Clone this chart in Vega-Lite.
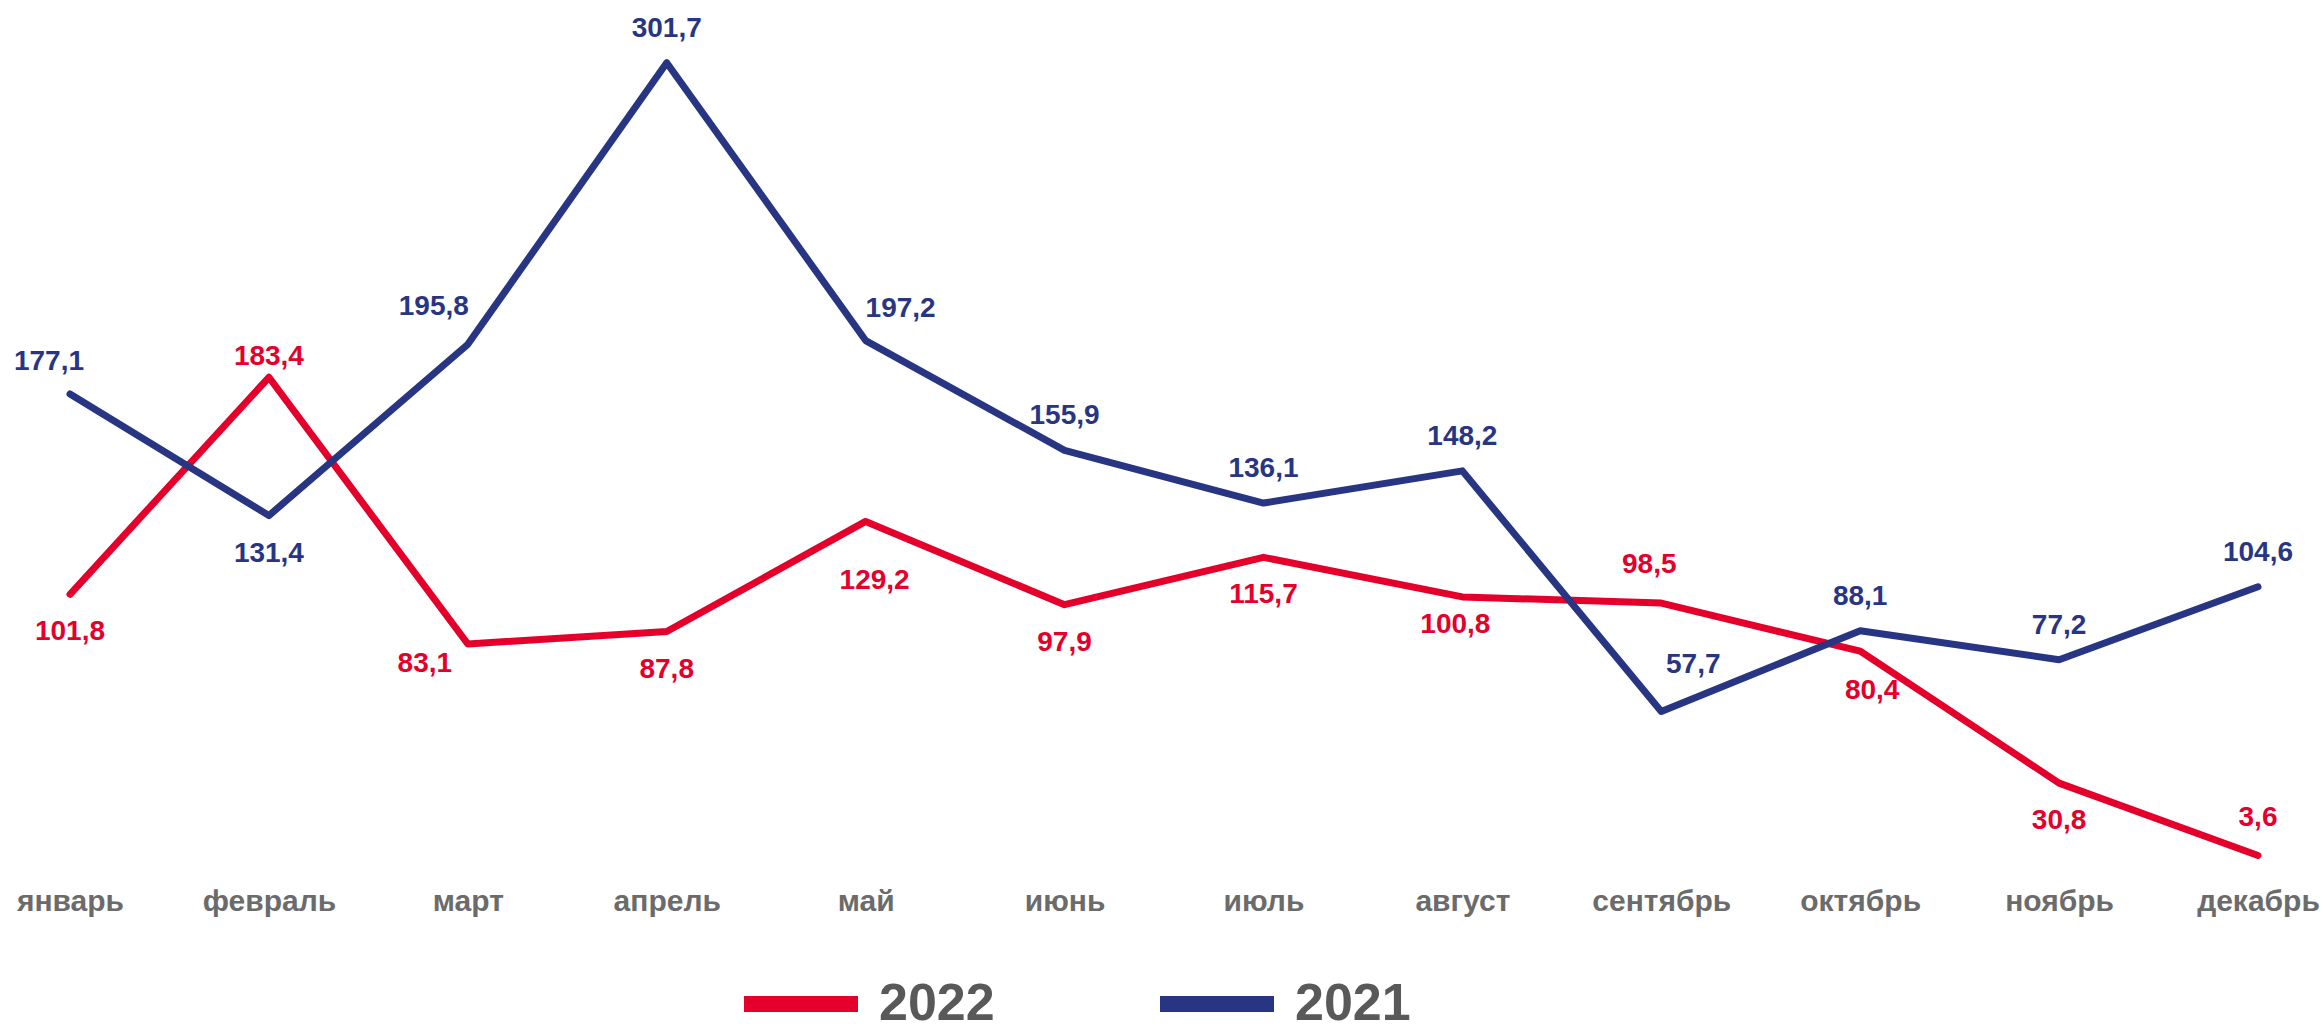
{
  "$schema": "https://vega.github.io/schema/vega-lite/v6.json",
  "width": 2188,
  "height": 851,
  "autosize": {"type": "none"},
  "padding": {"left": 70, "top": 14, "right": 65, "bottom": 166},
  "background": "white",
  "config": {
    "view": {"stroke": null},
    "locale": {"number": {"decimal": ",", "thousands": " ", "grouping": [3], "currency": ["", ""]}},
    "text": {"font": "Liberation Sans", "fontSize": 28, "fontWeight": "bold", "baseline": "middle"}
  },
  "data": {
    "values": [
      {"month": "январь", "year": "2022", "value": 101.8},
      {"month": "февраль", "year": "2022", "value": 183.4},
      {"month": "март", "year": "2022", "value": 83.1},
      {"month": "апрель", "year": "2022", "value": 87.8},
      {"month": "май", "year": "2022", "value": 129.2},
      {"month": "июнь", "year": "2022", "value": 97.9},
      {"month": "июль", "year": "2022", "value": 115.7},
      {"month": "август", "year": "2022", "value": 100.8},
      {"month": "сентябрь", "year": "2022", "value": 98.5},
      {"month": "октябрь", "year": "2022", "value": 80.4},
      {"month": "ноябрь", "year": "2022", "value": 30.8},
      {"month": "декабрь", "year": "2022", "value": 3.6},
      {"month": "январь", "year": "2021", "value": 177.1},
      {"month": "февраль", "year": "2021", "value": 131.4},
      {"month": "март", "year": "2021", "value": 195.8},
      {"month": "апрель", "year": "2021", "value": 301.7},
      {"month": "май", "year": "2021", "value": 197.2},
      {"month": "июнь", "year": "2021", "value": 155.9},
      {"month": "июль", "year": "2021", "value": 136.1},
      {"month": "август", "year": "2021", "value": 148.2},
      {"month": "сентябрь", "year": "2021", "value": 57.7},
      {"month": "октябрь", "year": "2021", "value": 88.1},
      {"month": "ноябрь", "year": "2021", "value": 77.2},
      {"month": "декабрь", "year": "2021", "value": 104.6}
    ]
  },
  "encoding": {
    "x": {
      "field": "month", "type": "nominal",
      "sort": ["январь","февраль","март","апрель","май","июнь","июль","август","сентябрь","октябрь","ноябрь","декабрь"],
      "scale": {"type": "point", "padding": 0},
      "axis": {
        "title": null, "domain": false, "ticks": false, "grid": false,
        "labelAngle": 0, "labelPadding": 21,
        "labelFont": "Liberation Sans",
        "labelFontSize": 30, "labelFontWeight": "bold", "labelColor": "#6b6b6b"
      }
    },
    "y": {
      "field": "value", "type": "quantitative",
      "scale": {"domain": [0, 320], "nice": false, "zero": true},
      "axis": null
    },
    "color": {
      "field": "year", "type": "nominal",
      "scale": {"domain": ["2022", "2021"], "range": ["#E4002B", "#283583"]},
      "legend": {
        "title": null, "orient": "none", "direction": "horizontal",
        "legendX": 666, "legendY": 925,
        "symbolType": "stroke", "symbolSize": 12996, "symbolStrokeWidth": 16,
        "labelFont": "Liberation Sans",
        "labelFontSize": 52, "labelFontWeight": "bold", "labelColor": "#595959",
        "labelOffset": 13, "columnPadding": 133
      }
    },
    "text": {"field": "value", "type": "quantitative", "format": ".1f"}
  },
  "layer": [
    {
      "mark": {"type": "line", "strokeWidth": 7, "strokeCap": "round", "strokeJoin": "round"},
      "encoding": {"text": null}
    },
    {
      "transform": [{"filter": "datum.year == '2021' && indexof(['апрель','июнь','июль','август','октябрь','ноябрь','декабрь'], datum.month) >= 0"}],
      "mark": {"type": "text", "dy": -34}
    },
    {
      "transform": [{"filter": "(datum.year == '2022' && indexof(['январь','апрель','июнь','июль','ноябрь'], datum.month) >= 0) || (datum.year == '2021' && datum.month == 'февраль')"}],
      "mark": {"type": "text", "dy": 38}
    },
    {
      "transform": [{"filter": "datum.year == '2022' && datum.month == 'декабрь'"}],
      "mark": {"type": "text", "dy": -37}
    },
    {
      "transform": [{"filter": "datum.year == '2021' && datum.month == 'январь'"}],
      "mark": {"type": "text", "dy": -32, "dx": -21}
    },
    {
      "transform": [{"filter": "datum.year == '2021' && datum.month == 'март'"}],
      "mark": {"type": "text", "dy": -37, "dx": -34}
    },
    {
      "transform": [{"filter": "datum.year == '2021' && datum.month == 'май'"}],
      "mark": {"type": "text", "dy": -32, "dx": 35}
    },
    {
      "transform": [{"filter": "datum.year == '2021' && datum.month == 'сентябрь'"}],
      "mark": {"type": "text", "dy": -47, "dx": 32}
    },
    {
      "transform": [{"filter": "datum.year == '2022' && datum.month == 'февраль'"}],
      "mark": {"type": "text", "dy": -20}
    },
    {
      "transform": [{"filter": "datum.year == '2022' && datum.month == 'март'"}],
      "mark": {"type": "text", "dy": 20, "dx": -43}
    },
    {
      "transform": [{"filter": "datum.year == '2022' && datum.month == 'май'"}],
      "mark": {"type": "text", "dy": 60, "dx": 9}
    },
    {
      "transform": [{"filter": "datum.year == '2022' && datum.month == 'август'"}],
      "mark": {"type": "text", "dy": 28, "dx": -7}
    },
    {
      "transform": [{"filter": "datum.year == '2022' && datum.month == 'сентябрь'"}],
      "mark": {"type": "text", "dy": -38, "dx": -12}
    },
    {
      "transform": [{"filter": "datum.year == '2022' && datum.month == 'октябрь'"}],
      "mark": {"type": "text", "dy": 40, "dx": 12}
    }
  ]
}
